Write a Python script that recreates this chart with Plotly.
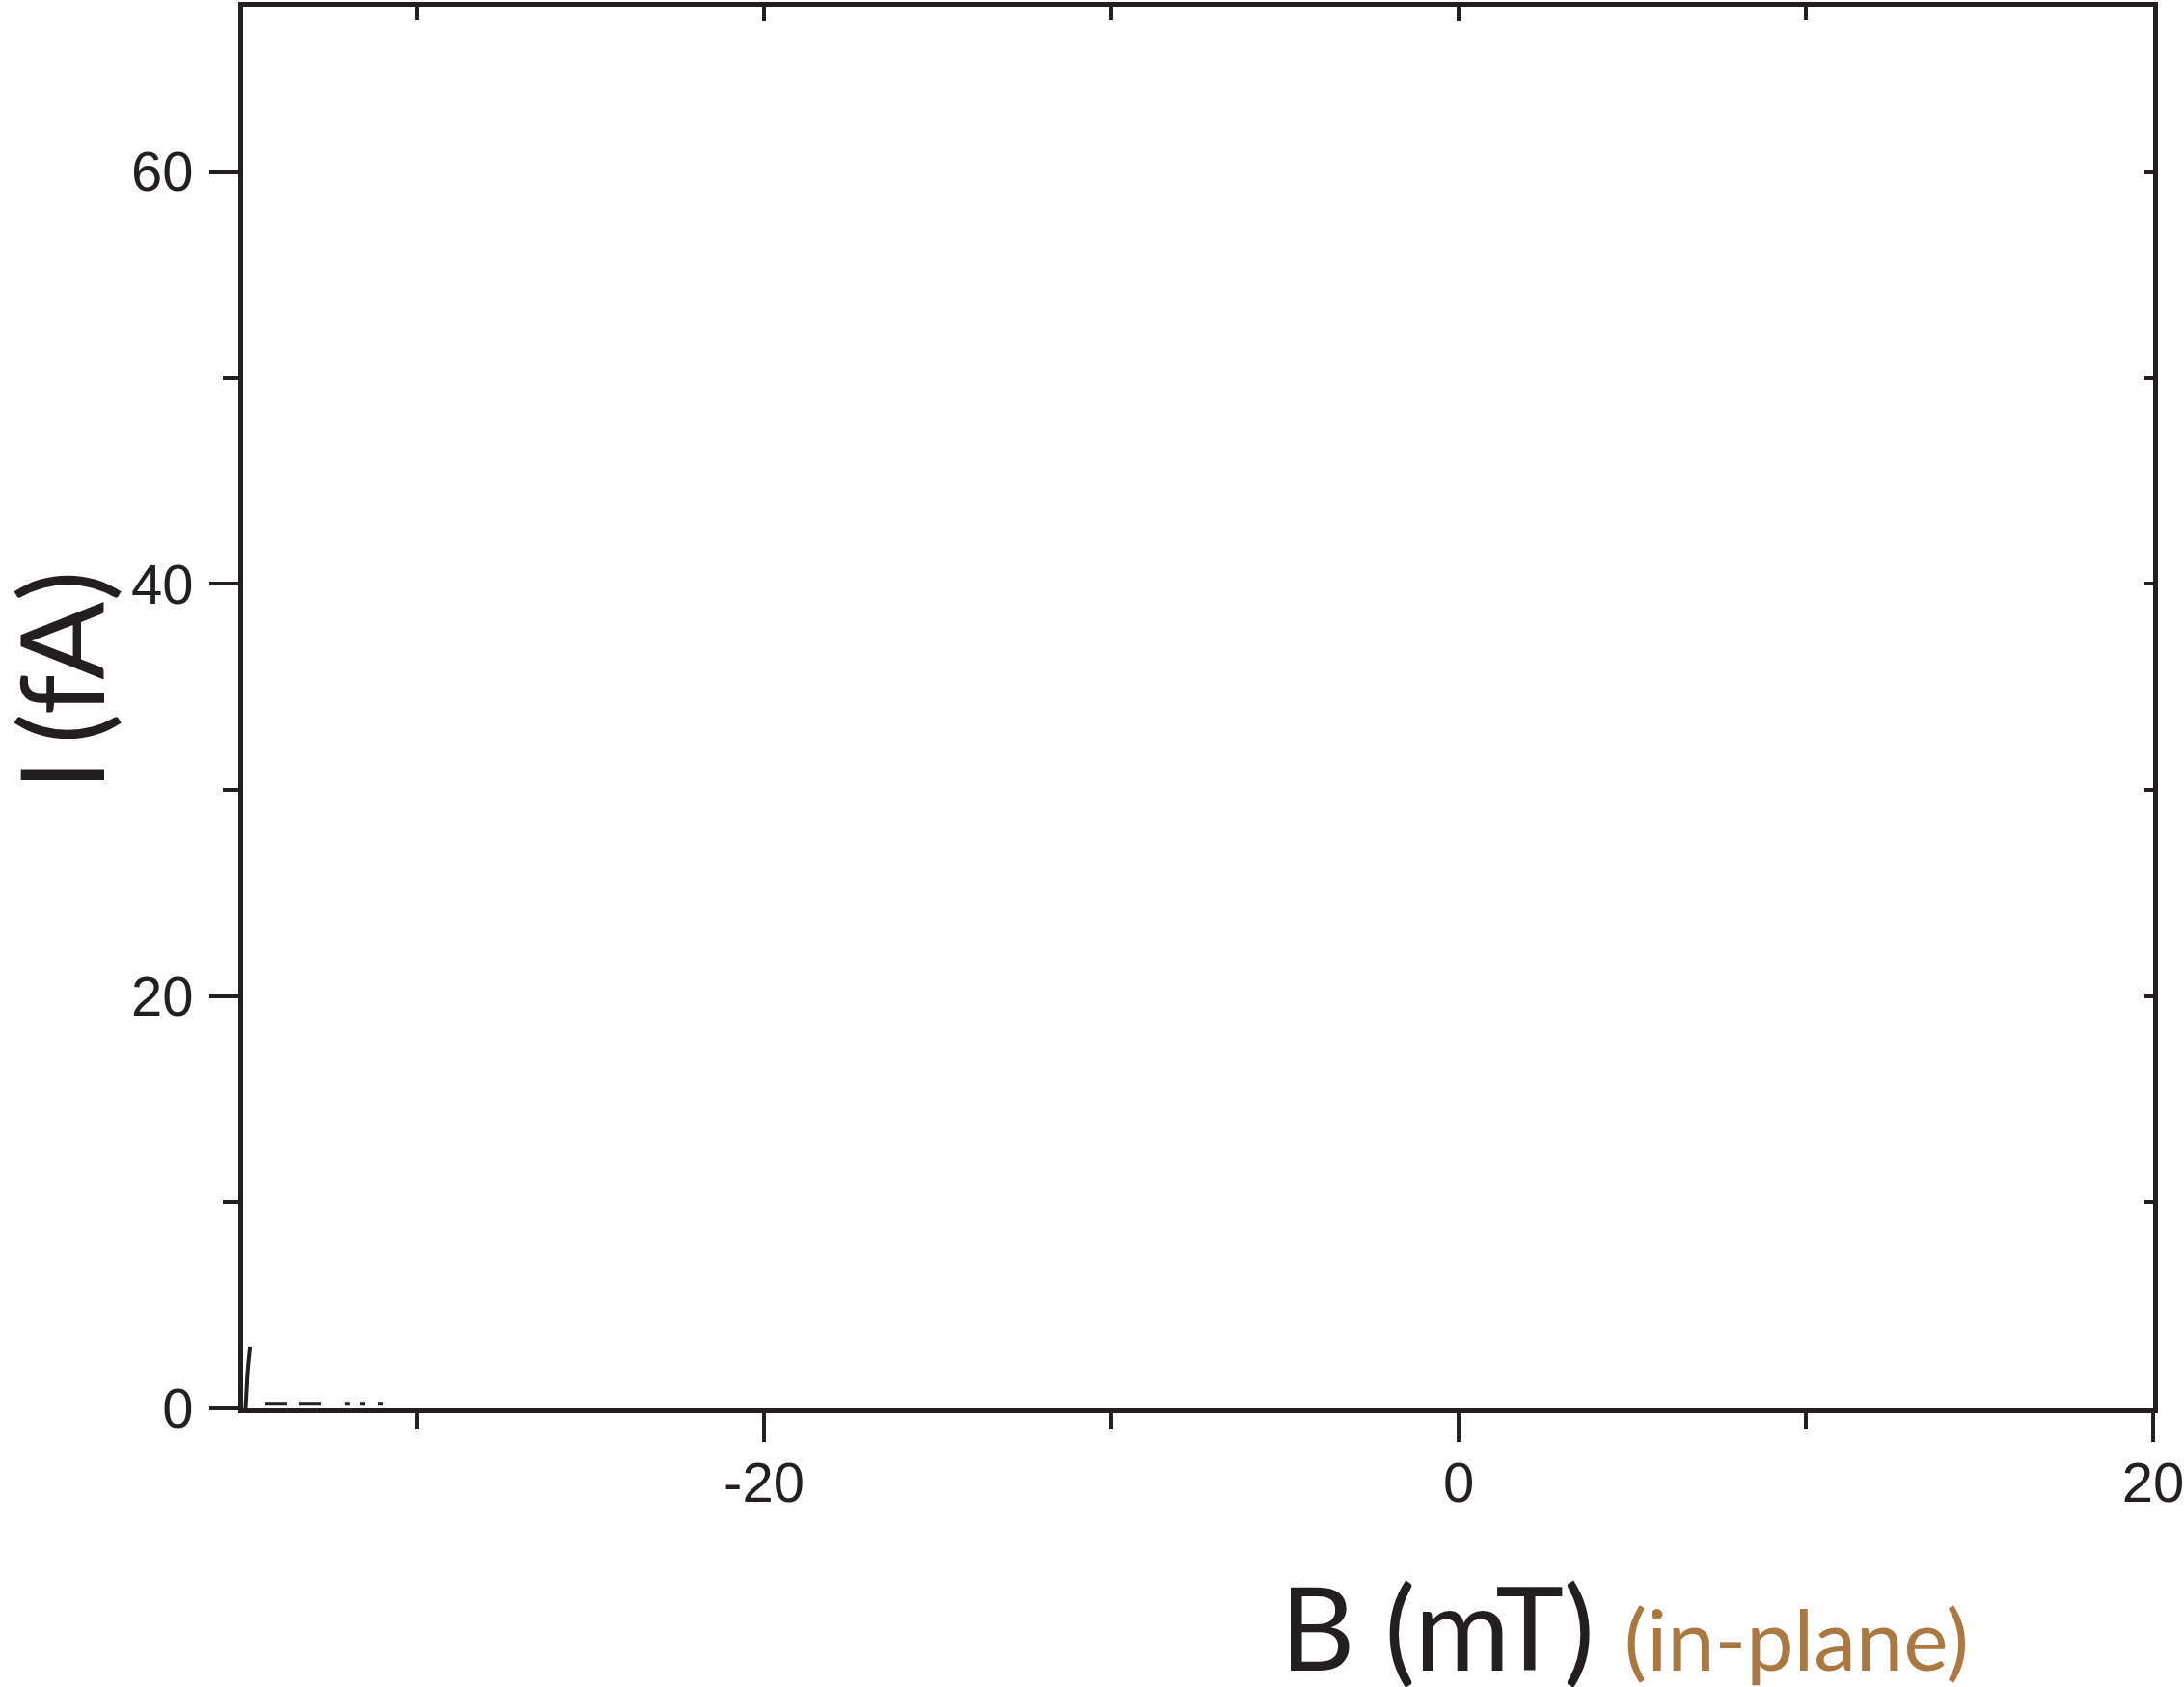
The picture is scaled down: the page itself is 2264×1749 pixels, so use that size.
import plotly.graph_objects as go

# ---- data ----
# short solid fragment near the left edge
B_frag = [-34.93, -34.91, -34.88, -34.85, -34.82, -34.80]
I_frag = [0.0, 1.0, 1.6, 2.2, 2.7, 3.0]
# faint dotted segments lying just on the bottom axis
B_dots = [-34.36, -33.75, None, -33.39, -32.75, None, -32.06, -31.92, None,
          -31.64, -31.50, None, -31.11, -30.97]
I_dots = [0.2, 0.2, None, 0.2, 0.2, None, 0.2, 0.2, None,
          0.2, 0.2, None, 0.2, 0.2]

x_range = [-35, 20]
y_range = [0, 68]
x_tickvals = [-20, 0, 20]
y_tickvals = [0, 20, 40, 60]

INK = "#231f20"
BROWN = "#a97941"
W, H = 2264, 1749
L, R, T, B = 252, 32, 7, 289

fig = go.Figure()
fig.add_trace(go.Scatter(x=B_frag, y=I_frag, mode="lines",
                         line=dict(color=INK, width=4), showlegend=False,
                         hoverinfo="skip"))
fig.add_trace(go.Scatter(x=B_dots, y=I_dots, mode="lines",
                         line=dict(color=INK, width=3), showlegend=False,
                         hoverinfo="skip", connectgaps=False))
# invisible trace to instantiate the mirror axes
fig.add_trace(go.Scatter(x=[None], y=[None], xaxis="x2", yaxis="y2",
                         showlegend=False, hoverinfo="skip"))

tickfont = dict(family="Liberation Sans, Arial, sans-serif", size=58, color=INK)

fig.update_layout(
    width=W, height=H,
    margin=dict(l=L, r=R, t=T, b=B, pad=0, autoexpand=False),
    paper_bgcolor="white", plot_bgcolor="white",
    xaxis=dict(range=x_range, tickvals=x_tickvals, ticktext=[str(v) for v in x_tickvals],
               ticks="outside", ticklen=30, tickwidth=4, tickcolor=INK,
               minor=dict(dtick=10, tick0=0, ticks="outside", ticklen=17,
                          tickwidth=4, tickcolor=INK),
               showline=True, linewidth=5, linecolor=INK, mirror=False,
               showgrid=False, zeroline=False, tickfont=tickfont,
               ticklabelstandoff=-8, ticklabeloverflow="allow", automargin=False),
    yaxis=dict(range=y_range, tickvals=y_tickvals, ticktext=[str(v) for v in y_tickvals],
               ticks="outside", ticklen=30, tickwidth=4, tickcolor=INK,
               minor=dict(dtick=10, tick0=0, ticks="outside", ticklen=16,
                          tickwidth=4, tickcolor=INK),
               showline=True, linewidth=5, linecolor=INK, mirror=False,
               showgrid=False, zeroline=False, tickfont=tickfont,
               ticklabelstandoff=5, ticklabeloverflow="allow", automargin=False),
    xaxis2=dict(range=x_range, overlaying="x", side="top", anchor="y",
                tickvals=x_tickvals, showticklabels=False,
                ticks="inside", ticklen=15, tickwidth=4, tickcolor=INK,
                minor=dict(dtick=10, tick0=0, ticks="inside", ticklen=14,
                           tickwidth=4, tickcolor=INK),
                showline=True, linewidth=5, linecolor=INK,
                showgrid=False, zeroline=False, automargin=False),
    yaxis2=dict(range=y_range, overlaying="y", side="right", anchor="x",
                tickvals=y_tickvals, showticklabels=False,
                ticks="inside", ticklen=9, tickwidth=4, tickcolor=INK,
                minor=dict(dtick=10, tick0=0, ticks="inside", ticklen=9,
                           tickwidth=4, tickcolor=INK),
                showline=True, linewidth=5, linecolor=INK,
                showgrid=False, zeroline=False, automargin=False),
)

plot_w = W - L - R
plot_h = H - T - B

def px_to_paper_x(px):
    return (px - L) / plot_w

def px_to_paper_y(py):
    return (H - B - py) / plot_h

fig.add_annotation(
    text=("B (mT) <span style='color:%s;font-size:88px'>(in-plane)</span>" % BROWN),
    xref="paper", yref="paper",
    x=px_to_paper_x(1684), y=px_to_paper_y(1686),
    xanchor="center", yanchor="middle", showarrow=False,
    font=dict(family="Lato, 'Open Sans', sans-serif", size=120, color=INK),
)
fig.add_annotation(
    text="I\u2009(fA)", textangle=-90,
    xref="paper", yref="paper",
    x=px_to_paper_x(62), y=px_to_paper_y(706),
    xanchor="center", yanchor="middle", showarrow=False,
    font=dict(family="Lato, 'Open Sans', sans-serif", size=120, color=INK),
)

fig.write_html("out.html",
               config={"displayModeBar": False},
               post_script="document.body.style.margin='0';document.body.style.overflow='hidden';")
